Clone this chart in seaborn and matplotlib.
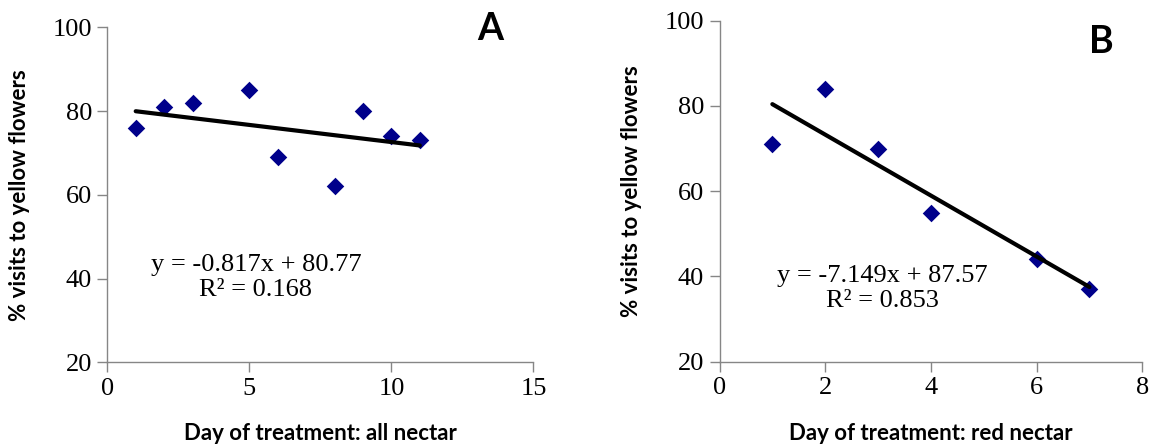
import matplotlib
matplotlib.use("Agg")
import matplotlib.pyplot as plt
import seaborn as sns
import numpy as np

# Panel A data
days_a = [1, 2, 3, 5, 6, 8, 9, 10, 11]
pct_a = [76, 81, 82, 85, 69, 62, 80, 74, 73]
eq_a = "y = -0.817x + 80.77\nR² = 0.168"
xlabel_a = "Day of treatment: all nectar"
xticks_a = [0, 5, 10, 15]

# Panel B data
days_b = [1, 2, 3, 4, 6, 7]
pct_b = [71, 84, 70, 55, 44, 37]
eq_b = "y = -7.149x + 87.57\nR² = 0.853"
xlabel_b = "Day of treatment: red nectar"
xticks_b = [0, 2, 4, 6, 8]

yticks = [20, 40, 60, 80, 100]
ylabel = "% visits to yellow flowers"

sns.set_theme(style="white")
plt.rcParams['font.family'] = ['Liberation Serif', 'DejaVu Serif']
plt.rcParams['text.color'] = 'black'
plt.rcParams['axes.labelcolor'] = 'black'
plt.rcParams['xtick.color'] = 'black'
plt.rcParams['ytick.color'] = 'black'

W, H = 1150, 446
fig = plt.figure(figsize=(W / 100, H / 100), dpi=100)

def px_axes(l, r, t, b):
    return fig.add_axes([l / W, 1 - b / H, (r - l) / W, (b - t) / H])

axA = px_axes(107.3, 533.5, 27.3, 362.3)
axB = px_axes(719.5, 1142.3, 20.7, 361.7)

sans = 'Lato'
marker_color = '#00008B'

panels = [
    (axA, days_a, pct_a, eq_a, xlabel_a, xticks_a, (0, 15), "A", (13.47, 99.7), (5.23, 40.3)),
    (axB, days_b, pct_b, eq_b, xlabel_b, xticks_b, (0, 8), "B", (7.22, 94.9), (3.09, 37.2)),
]

for ax, xs, ys, eq, xl, xt, xlim, letter, letter_pos, eq_pos in panels:
    sns.regplot(x=xs, y=ys, ax=ax, ci=None, marker='D', truncate=True,
                scatter_kws=dict(color=marker_color, s=80, linewidths=0, alpha=1, zorder=3),
                line_kws=dict(color='black', linewidth=3.0, zorder=4))
    ax.set_xlim(*xlim)
    ax.set_ylim(20, 100)
    ax.set_xticks(xt)
    ax.set_yticks(yticks)
    ax.tick_params(axis='both', which='both', direction='out', length=7, width=1,
                   color='#868686', labelcolor='black', labelsize=19, pad=4,
                   bottom=True, left=True)
    for lab in ax.get_xticklabels() + ax.get_yticklabels():
        lab.set_fontfamily('Liberation Serif')
    for s in ['top', 'right']:
        ax.spines[s].set_visible(False)
    for s in ['left', 'bottom']:
        ax.spines[s].set_color('#868686')
        ax.spines[s].set_linewidth(1)
    ax.set_xlabel(xl, fontsize=16, fontweight='bold', family=sans, labelpad=17,
                  color='black')
    ax.set_ylabel(ylabel, fontsize=16, fontweight='bold', family=sans, labelpad=16,
                  color='black')
    ax.text(letter_pos[0], letter_pos[1], letter, fontsize=27, fontweight='bold',
            family=sans, ha='center', va='center', color='black')
    ax.text(eq_pos[0], eq_pos[1], eq, fontsize=19, family='Liberation Serif',
            ha='center', va='center', multialignment='center', linespacing=1.2,
            color='black')

fig.savefig("out.png", dpi=100)
